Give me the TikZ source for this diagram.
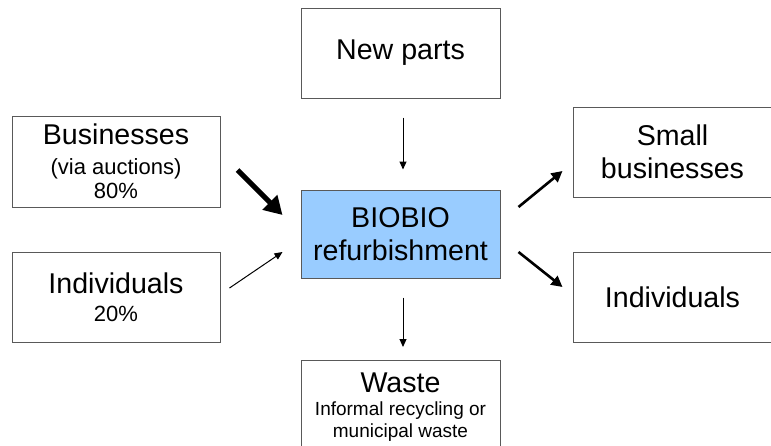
\documentclass[tikz,border=0pt]{standalone}
\usepackage{fontspec}
\setmainfont{Liberation Sans}
\usetikzlibrary{arrows.meta,positioning,calc}

\newcommand{\bigtxt}{\fontsize{14.3}{16.5}\selectfont}
\newcommand{\smltxt}{\fontsize{11}{12.5}\selectfont}
\newcommand{\wastetxt}{\fontsize{9.5}{10.5}\selectfont}

\begin{document}
\begin{tikzpicture}[
  x=0.5pt, y=-0.5pt,
  box/.style={draw=black!65, line width=0.5pt, minimum width=99.5pt, minimum height=45pt, align=center, inner sep=1pt, font=\bigtxt},
  hub/.style={box, fill={rgb,255:red,153;green,204;blue,255}},
  thin/.style={-{Triangle[length=4pt, width=3.5pt]}, line width=0.5pt},
  mid/.style={-{Triangle[length=5.5pt, width=5.5pt]}, line width=1.3pt},
  fat/.style={-{Triangle[length=9pt, width=10pt]}, line width=2.6pt}
]
  \useasboundingbox (0,0) rectangle (771,445);
  \clip (0,0) rectangle (771,445);

  % Nodes
  \node[box, minimum width=104pt, minimum height=45.5pt] (bus) at (116,161.5) {Businesses\\[-1.5pt]\smltxt (via auctions)\\[-4.5pt]\smltxt 80\%};
  \node[box, minimum width=104pt] (indin) at (116,297) {Individuals\\[-2.5pt]\smltxt 20\%};
  \node[box] (parts) at (400.5,53) {New parts};
  \node[hub, minimum height=44pt] (bio) at (400.5,234) {BIOBIO\\refurbishment};
  \node[box, minimum height=47.5pt] (waste) at (400.5,407.5) {Waste\\[-5pt]\wastetxt Informal recycling or\\[-5.5pt]\wastetxt municipal waste};
  \node[box] (small) at (672.5,152) {Small\\businesses};
  \node[box] (indout) at (672.5,297) {Individuals};

  % Arrows
  \draw[fat] ([shift={(17,8.5)}]bus.east) -- ([shift={(-18,-19)}]bio.west);
  \draw[thin] ([shift={(9,-9)}]indin.east) -- ([shift={(-18,18)}]bio.west);
  \draw[thin] ([shift={(2.5,19)}]parts.south) -- ([shift={(2.5,-20)}]bio.north);
  \draw[thin] ([shift={(2.5,19)}]bio.south) -- ([shift={(2.5,-12.5)}]waste.north);
  \draw[mid] ([shift={(18,-27)}]bio.east) -- ([shift={(-10,19)}]small.west);
  \draw[mid] ([shift={(18,18)}]bio.east) -- ([shift={(-10,-10)}]indout.west);
\end{tikzpicture}
\end{document}
